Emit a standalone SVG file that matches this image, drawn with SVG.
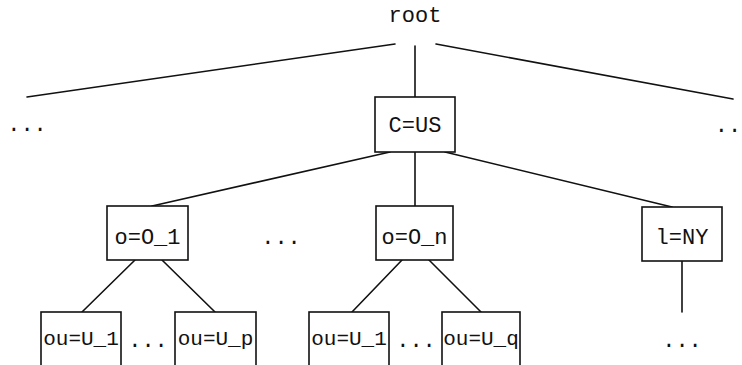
<svg xmlns="http://www.w3.org/2000/svg" width="742" height="365" viewBox="0 0 742 365">
<style>
.t{font-family:"Liberation Mono","DejaVu Sans Mono",monospace;font-size:22px;fill:#111;text-anchor:middle}
.s{font-size:21px}
.b{fill:#fff;stroke:#111;stroke-width:1.6}
.e{stroke:#111;stroke-width:1.6;fill:none;stroke-linecap:round}
</style>
<rect width="742" height="365" fill="#fff"/>
<g id="edges">
<line class="e" x1="27" y1="97" x2="395" y2="44"/>
<line class="e" x1="436" y1="44" x2="733" y2="99"/>
<line class="e" x1="415" y1="46" x2="415" y2="97"/>
<line class="e" x1="390" y1="152" x2="152" y2="206"/>
<line class="e" x1="415" y1="152" x2="415" y2="206"/>
<line class="e" x1="445" y1="152" x2="672" y2="207"/>
<line class="e" x1="135" y1="260" x2="82" y2="312"/>
<line class="e" x1="162" y1="260" x2="215" y2="312"/>
<line class="e" x1="402" y1="260" x2="352" y2="312"/>
<line class="e" x1="429" y1="260" x2="481" y2="312"/>
<line class="e" x1="682" y1="261" x2="682" y2="312"/>
</g>
<g id="root"><text class="t" x="415" y="22">root</text></g>
<g id="dots-left"><text class="t" x="27" y="131">...</text></g>
<g id="dots-right"><text class="t" x="728" y="132">..</text></g>
<g id="cus"><rect class="b" x="375" y="97" width="80" height="55"/><text class="t" x="415" y="132">C=US</text></g>
<g id="o1"><rect class="b" x="107" y="206" width="81" height="54"/><text class="t" x="147.5" y="244">o=O_1</text></g>
<g id="dots-mid"><text class="t" x="281" y="244">...</text></g>
<g id="on"><rect class="b" x="376" y="206" width="77" height="54"/><text class="t" x="414.5" y="244">o=O_n</text></g>
<g id="lny"><rect class="b" x="642" y="207" width="80" height="54"/><text class="t" x="682" y="244">l=NY</text></g>
<g id="u1a"><rect class="b" x="41" y="312" width="80" height="70"/><text class="t s" x="81" y="345">ou=U_1</text></g>
<g id="dots-a"><text class="t" x="148" y="347">...</text></g>
<g id="up"><rect class="b" x="175" y="312" width="81" height="70"/><text class="t s" x="215.5" y="345">ou=U_p</text></g>
<g id="u1b"><rect class="b" x="309" y="312" width="80" height="70"/><text class="t s" x="349" y="345">ou=U_1</text></g>
<g id="dots-b"><text class="t" x="416" y="347">...</text></g>
<g id="uq"><rect class="b" x="442" y="312" width="78" height="70"/><text class="t s" x="481" y="345">ou=U_q</text></g>
<g id="dots-ny"><text class="t" x="682" y="347">...</text></g>
</svg>
